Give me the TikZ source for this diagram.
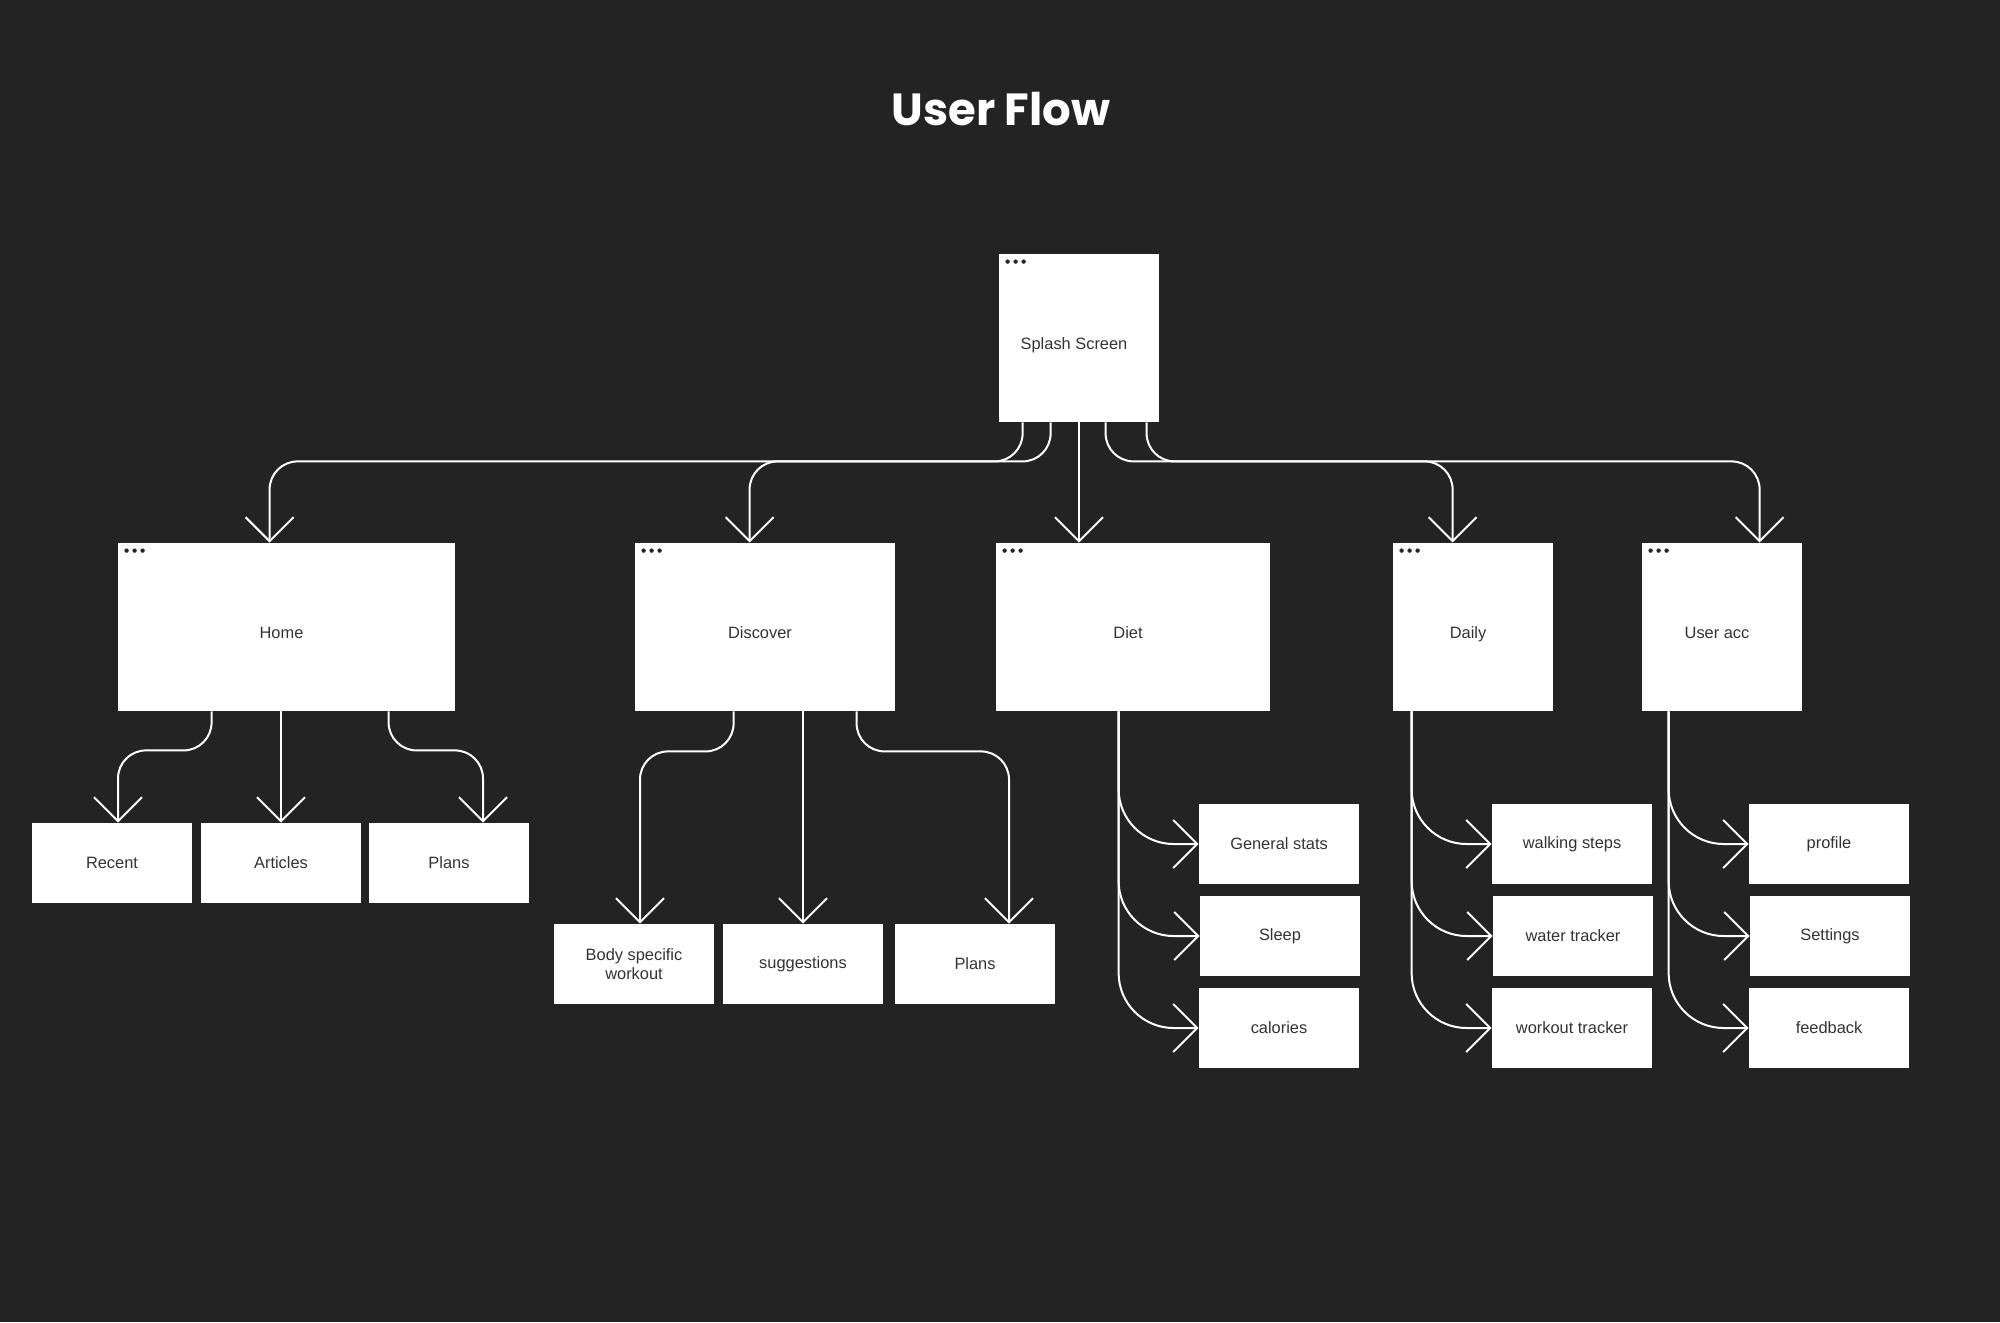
\documentclass[tikz,border=0pt]{standalone}
\usepackage{fontspec}
\setmainfont{Liberation Sans}
\newfontfamily\titlefont{Poppins}
\usetikzlibrary{calc,arrows.meta}
\definecolor{bgdark}{RGB}{35,35,35}
\definecolor{inkgray}{RGB}{51,51,51}
\definecolor{dotgray}{RGB}{40,40,40}
\newcommand{\winDots}[1]{
    \foreach \dx in {9,17,25}
        \fill[dotgray] ($(#1.north west)+(\dx,8)$) circle[radius=1.1pt];
}
\begin{document}
\begin{tikzpicture}[x=0.5pt,y=-0.5pt,
    screen/.style={fill=white, inner sep=0pt, minimum height=84pt, text=inkgray,
        font=\fontsize{8.2pt}{9.5pt}\selectfont, text height=11.7pt, text depth=0pt,
        execute at end node={\hspace*{5pt}}},
    page/.style={fill=white, inner sep=0pt, minimum width=80pt, minimum height=40pt,
        text=inkgray, align=center, font=\fontsize{8.2pt}{9.5pt}\selectfont},
    flow/.style={draw=white, line width=1pt, rounded corners=14pt,
        -{Straight Barb[length=12pt,width=24pt]}},
    flowside/.style={flow, rounded corners=27.5pt}]
    \fill[bgdark] (0,0) rectangle (2000,1322);
    \node[anchor=base, text=white, font=\titlefont\bfseries\fontsize{22.5pt}{26pt}\selectfont] (title) at (1001,126) {User Flow};
    % screens
    \node[screen, minimum width=80pt] (splash) at (1079,338) {Splash Screen};
    \node[screen, minimum width=168.5pt] (home) at (286.5,627) {Home};
    \node[screen, minimum width=130pt] (discover) at (765,627) {Discover};
    \node[screen, minimum width=137pt] (diet) at (1133,627) {Diet};
    \node[screen, minimum width=80pt] (daily) at (1473,627) {Daily};
    \node[screen, minimum width=80pt] (useracc) at (1722,627) {User acc};
    \winDots{splash}
    \winDots{home}
    \winDots{discover}
    \winDots{diet}
    \winDots{daily}
    \winDots{useracc}
    % pages
    \node[page] (recent) at (112,863) {Recent};
    \node[page] (articles) at (281,863) {Articles};
    \node[page] (plansA) at (449,863) {Plans};
    \node[page] (body) at (634,964) {Body specific\\workout};
    \node[page] (sugg) at (803,964) {suggestions};
    \node[page] (plansB) at (975,964) {Plans};
    \node[page] (stats) at (1279,844) {General stats};
    \node[page] (sleep) at (1280,936) {Sleep};
    \node[page] (calories) at (1279,1028) {calories};
    \node[page] (walk) at (1572,844) {walking steps};
    \node[page] (water) at (1573,936) {water tracker};
    \node[page] (workout) at (1572,1028) {workout tracker};
    \node[page] (profile) at (1829,844) {profile};
    \node[page] (settings) at (1830,936) {Settings};
    \node[page] (feedback) at (1829,1028) {feedback};
    % splash to screens
    \draw[flow] ($(splash.south west)+(24,0)$) -- ++(0,39) -| ($(home.north west)+(152,0)$);
    \draw[flow] ($(splash.south west)+(52,0)$) -- ++(0,39) -| ($(discover.north west)+(115,0)$);
    \draw[flow] (splash.south) -- (splash.south |- diet.north);
    \draw[flow] ($(splash.south west)+(107,0)$) -- ++(0,39) -| ($(daily.north west)+(60,0)$);
    \draw[flow] ($(splash.south west)+(148,0)$) -- ++(0,39) -| ($(useracc.north west)+(118,0)$);
    % home
    \draw[flow] ($(home.south west)+(94,0)$) -- ++(0,39) -| ($(recent.north)+(6,0)$);
    \draw[flow] (articles.north |- home.south) -- (articles.north);
    \draw[flow] ($(home.south west)+(271,0)$) -- ++(0,39) -| ($(plansA.north)+(34,0)$);
    % discover
    \draw[flow] ($(discover.south west)+(99,0)$) -- ++(0,40) -| ($(body.north)+(6,0)$);
    \draw[flow] (sugg.north |- discover.south) -- (sugg.north);
    \draw[flow] ($(discover.south west)+(222,0)$) -- ++(0,40) -| ($(plansB.north)+(34,0)$);
    % diet, daily, user acc
    \foreach \pg in {stats,sleep,calories}
        \draw[flowside] ($(diet.south west)+(123,0)$) |- (\pg.west);
    \foreach \pg in {walk,water,workout}
        \draw[flowside] ($(daily.south west)+(19,0)$) |- (\pg.west);
    \foreach \pg in {profile,settings,feedback}
        \draw[flowside] ($(useracc.south west)+(27,0)$) |- (\pg.west);
\end{tikzpicture}
\end{document}
